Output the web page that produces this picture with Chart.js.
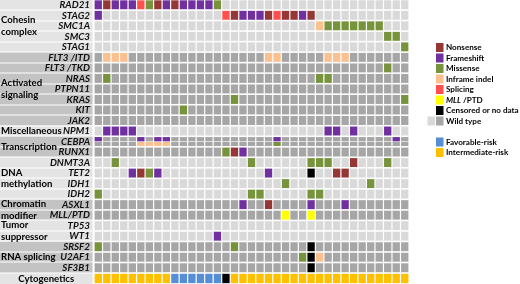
<!DOCTYPE html>
<html>
<head>
<meta charset="utf-8">
<script src="https://cdn.jsdelivr.net/npm/chart.js@4/dist/chart.umd.min.js"></script>
<style>
  html, body { margin: 0; padding: 0; background: #fff; }
  #wrap { width: 520px; height: 284px; }
</style>
</head>
<body>
<div id="wrap"><canvas id="chart" width="520" height="284"></canvas></div>
<script>
// one column per patient
const patients = Array.from({ length: 37 }, (_, i) => 'P' + (i + 1));

const genes = ['RAD21', 'STAG2', 'SMC1A', 'SMC3', 'STAG1', 'FLT3 /ITD', 'FLT3 /TKD', 'NRAS', 'PTPN11', 'KRAS',
  'KIT', 'JAK2', 'NPM1', 'CEBPA', 'RUNX1', 'DNMT3A', 'TET2', 'IDH1', 'IDH2', 'ASXL1', 'MLL/PTD', 'TP53', 'WT1',
  'SRSF2', 'U2AF1', 'SF3B1'];

// N nonsense, F frameshift, M missense, I inframe indel, S splicing, P MLL/PTD, C censored, . wild type
const mutations = [
  'FNFFFSMNFNFFFFM......................', // RAD21
  'F..............SNFFFNSNNFN...........', // STAG2
  '..........................IMMMMMMM...', // SMC1A
  '..................................MM.', // SMC3
  '....................................M', // STAG1
  '.III................II.....III.......', // FLT3 /ITD
  '..................................M..', // FLT3 /TKD
  '.M........................MM.........', // NRAS
  '.....................................', // PTPN11
  '................M...................M', // KRAS
  '..........M..........................', // KIT
  '.....................................', // JAK2
  '.FFFF......................FF.F...F..', // NPM1
  'F....F.FF............F.............F.', // CEBPA (first allele)
  '...............MNF...................', // RUNX1
  '..M...............M......MMM..N...M..', // DNMT3A
  '....FNMF............F....C..NN.......', // TET2
  '......................M.........M....', // IDH1
  'M.................MM.....MM..........', // IDH2
  '.................F..N....F...F.......', // ASXL1
  '......................P..P...........', // MLL/PTD
  '.....................................', // TP53
  '..............F......................', // WT1
  'M...............M........C...........', // SRSF2
  '........................MCI..........', // U2AF1
  '.........................C...........'  // SF3B1
];
const cebpaSecondAllele = '.....IIII............M...............';

// I intermediate-risk, F favorable-risk, C no data
const cytogenetics = 'IIIIIIIIIFFFFFFCIIIIIIIIIIIIIIIIIIIII';

const groupNames = [['Cohesin', 'complex'], ['Activated', 'signaling'], ['Miscellaneous'], ['Transcription'],
  ['DNA', 'methylation'], ['Chromatin', 'modifier'], ['Tumor', 'suppressor'], ['RNA splicing']];
const groupSizes = [5, 7, 1, 2, 4, 2, 2, 3];

const types = {
  N: { label: 'Nonsense', color: '#953735' },
  F: { label: 'Frameshift', color: '#7030A0' },
  M: { label: 'Missense', color: '#77933C' },
  I: { label: 'Inframe indel', color: '#FAC090' },
  S: { label: 'Splicing', color: '#FF4F4F' },
  P: { label: 'MLL /PTD', color: '#FFFF00' },
  C: { label: 'Censored or no data', color: '#000000' }
};
const wildLight = '#D9D9D9', wildDark = '#A6A6A6';
const riskColors = { F: '#558ED5', I: '#FFC000', C: '#000000' };

// which rows sit in a dark-shaded group
const darkRow = [];
groupSizes.forEach((n, g) => { for (let i = 0; i < n; i++) darkRow.push(g % 2 === 1); });

// build datasets
const buckets = {};
function put(color, col, y0, y1) {
  if (!buckets[color]) buckets[color] = [];
  buckets[color].push({ x: patients[col], y: [y0, y1] });
}
mutations.forEach((row, r) => {
  const wild = darkRow[r] ? wildDark : wildLight;
  if (r === 13) {
    [...row].forEach((code, c) => put(code === '.' ? wild : types[code].color, c, r + 0.03, r + 0.44));
    [...cebpaSecondAllele].forEach((code, c) => put(code === '.' ? wild : types[code].color, c, r + 0.5, r + 0.88));
    return;
  }
  [...row].forEach((code, c) => put(code === '.' ? wild : types[code].color, c, r + 0.03, r + 0.88));
});
[...cytogenetics].forEach((code, c) => put(riskColors[code], c, 26.03, 26.92));

const datasets = Object.entries(buckets).map(([color, data]) => ({
  data,
  backgroundColor: color,
  borderWidth: 0,
  borderSkipped: false,
  grouped: false,
  barPercentage: 0.86,
  categoryPercentage: 1
}));

const FONT = 'Lato, "Open Sans", sans-serif';

// row labels, group shading and the legend
const panel = {
  id: 'panel',
  beforeDatasetsDraw(chart) {
    const { ctx, chartArea, scales: { y } } = chart;
    const right = chartArea.left - 1.5;
    ctx.save();
    ctx.textBaseline = 'middle';

    // group shading
    let r0 = 0;
    const centers = [];
    groupNames.forEach((lines, g) => {
      const r1 = r0 + groupSizes[g];
      const top = y.getPixelForValue(r0 - 0.05), bot = y.getPixelForValue(r1 - 0.05);
      ctx.fillStyle = g % 2 ? '#C3C3C3' : '#E4E4E4';
      ctx.fillRect(0, top, right, bot - top);
      centers.push((top + bot) / 2);
      r0 = r1;
    });
    const ct = y.getPixelForValue(25.95), cb = y.getPixelForValue(27);
    ctx.fillStyle = '#E4E4E4';
    ctx.fillRect(0, ct, right, cb - ct);

    // white row separators in the label column
    ctx.fillStyle = '#fff';
    for (let r = 1; r < 27; r++) ctx.fillRect(0, Math.round(y.getPixelForValue(r - 0.05)) - 0.5, right, 1);

    // group names
    ctx.fillStyle = '#000';
    ctx.font = 'bold 9.6px ' + FONT;
    ctx.textAlign = 'left';
    groupNames.forEach((lines, g) => {
      lines.forEach((t, i) => ctx.fillText(t, 1, centers[g] + (i - (lines.length - 1) / 2) * 11.5));
    });
    ctx.textAlign = 'center';
    ctx.fillText('Cytogenetics', right / 2, (ct + cb) / 2);

    // gene names
    ctx.font = 'italic bold 9.8px ' + FONT;
    ctx.textAlign = 'right';
    ctx.fillStyle = '#111';
    genes.forEach((gname, r) => ctx.fillText(gname, 90, y.getPixelForValue(r + 0.46)));

    // legend
    const lx = 436, pitch = 10.5;
    ctx.textAlign = 'left';
    const row = (i, color, text, italicPart) => {
      const cy = 47.5 + i * pitch;
      ctx.fillStyle = color;
      ctx.fillRect(lx, cy - 4.5, 7.5, 9);
      ctx.fillStyle = '#000';
      let tx = lx + 10;
      if (italicPart) {
        ctx.font = 'italic bold 8.1px ' + FONT;
        ctx.fillText(italicPart, tx, cy);
        tx += ctx.measureText(italicPart).width;
      }
      ctx.font = 'bold 8.1px ' + FONT;
      ctx.fillText(text, tx, cy);
    };
    ['N', 'F', 'M', 'I', 'S', 'P', 'C'].forEach((k, i) => {
      if (k === 'P') row(i, types[k].color, ' /PTD', 'MLL');
      else row(i, types[k].color, types[k].label);
    });
    row(7, wildDark, 'Wild type');
    ctx.fillStyle = wildLight;
    ctx.fillRect(lx - 8.5, 47.5 + 7 * pitch - 4.5, 7.5, 9);
    row(9, riskColors.F, 'Favorable-risk');
    row(10, riskColors.I, 'Intermediate-risk');
    ctx.restore();
  }
};

new Chart(document.getElementById('chart'), {
  type: 'bar',
  data: { labels: patients, datasets },
  options: {
    responsive: false,
    animation: false,
    devicePixelRatio: 1,
    layout: { padding: { left: 94, right: 111, top: 0, bottom: 0 } },
    scales: {
      x: { type: 'category', display: false, offset: true },
      y: { type: 'linear', min: 0, max: 27, reverse: true, display: false }
    },
    plugins: { legend: { display: false }, tooltip: { enabled: false } }
  },
  plugins: [panel]
});
</script>
</body>
</html>
